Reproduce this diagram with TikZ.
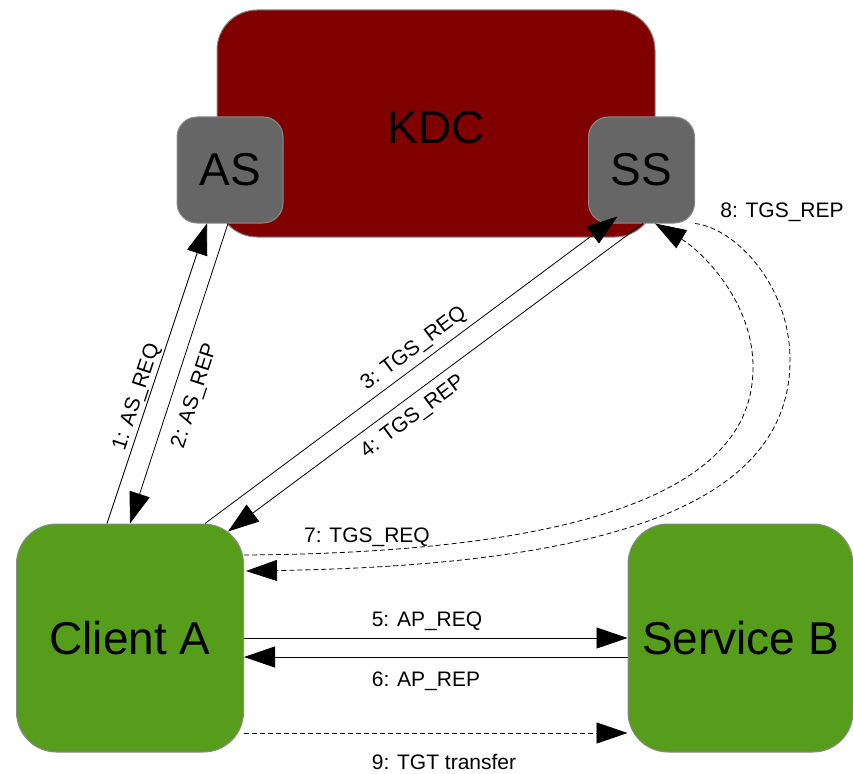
\documentclass[tikz,border=0pt]{standalone}
\usepackage{fontspec}
\setmainfont{Liberation Sans}
\usetikzlibrary{arrows.meta}
\definecolor{kdcred}{HTML}{800000}
\definecolor{boxgray}{HTML}{666666}
\definecolor{boxgreen}{HTML}{579D1C}
\definecolor{edgegray}{HTML}{8A8A8A}
\tikzset{
  bigbox/.style={draw=edgegray, line width=1pt, rounded corners=40pt, inner sep=0pt,
    font=\fontsize{46}{50}\selectfont, text=black},
  smallbox/.style={draw=edgegray, line width=1pt, rounded corners=20pt, fill=boxgray,
    minimum width=106pt, minimum height=106pt, inner sep=0pt,
    font=\fontsize{46}{50}\selectfont, text=black},
  lbl/.style={font=\fontsize{21}{24}\selectfont, inner sep=0pt, text=black},
  msg/.style={line width=0.8pt, -{Triangle[length=31pt,width=21pt]}},
  dmsg/.style={msg, dash pattern=on 5pt off 3pt},
}
\begin{document}
\begin{tikzpicture}[x=1pt,y=-1pt]
\useasboundingbox (0,0) rectangle (853,773);
% KDC
\node[bigbox, fill=kdcred, minimum width=438pt, minimum height=227pt] (kdc) at (436,123.5) {};
\node[font=\fontsize{46}{50}\selectfont, inner sep=0pt] (kdct) at (436,128) {KDC};
\node[smallbox] (as) at (230,170) {AS};
\node[smallbox] (ss) at (641.5,170) {SS};
% clients
\node[bigbox, fill=boxgreen, minimum width=227pt, minimum height=228pt] (client) at (130,638) {Client A};
\node[bigbox, fill=boxgreen, minimum width=225pt, minimum height=228pt] (service) at (740.5,638) {Service B};
% AS exchange
\draw[msg] ([xshift=-23pt]client.north) -- ([xshift=-23pt]as.south);
\draw[msg] ([xshift=-2pt]as.south) -- (client.north);
\node[lbl, rotate=71.6] (l1) at (137,397) {1: AS\_REQ};
\node[lbl, rotate=72] (l2) at (195,396) {2: AS\_REP};
% TGS exchange
\draw[msg] ([xshift=75pt]client.north) -- ([xshift=-24pt,yshift=7pt]ss.south);
\draw[msg] ([xshift=1.5pt]ss.south) -- ([xshift=98pt,yshift=-8pt]client.north);
\node[lbl, rotate=36.9] (l3) at (414,349) {3: TGS\_REQ};
\node[lbl, rotate=36.7] (l4) at (413,417) {4: TGS\_REP};
% AP exchange
\draw[msg] (client.east) -- (service.west);
\draw[msg] ([yshift=-19pt]service.west) -- ([yshift=-19pt]client.east);
\node[lbl] (l5) at (427,621) {5: AP\_REQ};
\node[lbl] (l6) at (426,681) {6: AP\_REP};
% TGT transfer
\draw[dmsg] ([yshift=-95pt]client.east) -- ([yshift=-95pt]service.west);
\node[lbl] (l9) at (444,761.5) {9: TGT transfer};
% forwarded TGS
\coordinate (m7) at (753,367);
\coordinate (m8) at (790,360);
\draw[dmsg] ([yshift=83pt]client.east) .. controls (700,552) and (753,440) .. (m7)
   .. controls (753,300) and (700,250) .. ([xshift=13.5pt]ss.south);
\draw[dmsg] (ss.south east) .. controls (735,228) and (790,285) .. (m8)
   .. controls (790,500) and (620,565) .. ([xshift=2pt,yshift=67pt]client.east);
\node[lbl] (l7) at (367,537) {7: TGS\_REQ};
\node[lbl] (l8) at (782,212) {8: TGS\_REP};
\end{tikzpicture}
\end{document}
